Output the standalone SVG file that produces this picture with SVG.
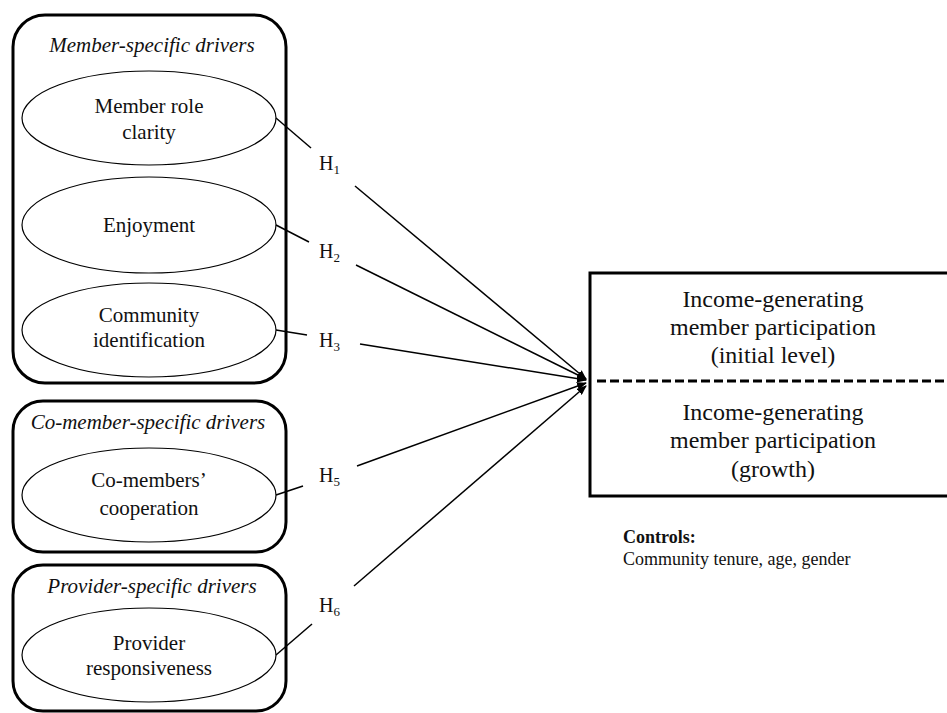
<svg xmlns="http://www.w3.org/2000/svg" width="947" height="713" viewBox="0 0 947 713">
<defs>
<style>
.grp{fill:none;stroke:#000;stroke-width:3}
.ell{fill:#fff;stroke:#000;stroke-width:1.2}
.t{font-family:"Liberation Serif","Times New Roman",serif;fill:#111;text-anchor:middle}
.s21{font-size:21px}
.it{font-style:italic}
.s24{font-size:24px}
.h{font-family:"Liberation Serif","Times New Roman",serif;font-size:20px;fill:#111}
.sub{font-size:13px}
.ln{stroke:#000;stroke-width:1.5;fill:none}
.ar{stroke:#000;stroke-width:1.5;fill:none;marker-end:url(#ah)}
</style>
<marker id="ah" markerWidth="10" markerHeight="8" refX="9" refY="4" orient="auto" markerUnits="userSpaceOnUse">
<path d="M0,0 L10,4 L0,8 Z" fill="#000"/>
</marker>
</defs>
<rect width="947" height="713" fill="#fff"/>

<g id="group-member">
<rect class="grp" x="13" y="15" width="273" height="368" rx="32"/>
<text class="t s21 it" x="152" y="52">Member-specific drivers</text>
</g>
<g id="node-role-clarity">
<ellipse class="ell" cx="149" cy="118" rx="127" ry="47"/>
<text class="t s21" x="149" y="113">Member role</text>
<text class="t s21" x="149" y="139">clarity</text>
</g>
<g id="node-enjoyment">
<ellipse class="ell" cx="149" cy="225" rx="127" ry="48"/>
<text class="t s21" x="149" y="232">Enjoyment</text>
</g>
<g id="node-community-identification">
<ellipse class="ell" cx="149" cy="330" rx="127" ry="47"/>
<text class="t s21" x="149" y="322">Community</text>
<text class="t s21" x="149" y="347">identification</text>
</g>

<g id="group-comember">
<rect class="grp" x="13" y="401" width="273" height="151" rx="30"/>
<text class="t s21 it" x="148" y="429">Co-member-specific drivers</text>
</g>
<g id="node-cooperation">
<ellipse class="ell" cx="149" cy="495" rx="127" ry="47"/>
<text class="t s21" x="149" y="487">Co-members’</text>
<text class="t s21" x="149" y="515">cooperation</text>
</g>

<g id="group-provider">
<rect class="grp" x="13" y="565" width="273" height="146" rx="30"/>
<text class="t s21 it" x="152" y="593">Provider-specific drivers</text>
</g>
<g id="node-responsiveness">
<ellipse class="ell" cx="149" cy="655" rx="127" ry="47"/>
<text class="t s21" x="149" y="650">Provider</text>
<text class="t s21" x="149" y="675">responsiveness</text>
</g>

<g id="node-outcome">
<rect x="590" y="273" width="370" height="223" fill="none" stroke="#000" stroke-width="3"/>
<line x1="597" y1="381" x2="947" y2="381" stroke="#000" stroke-width="3" stroke-dasharray="9,4"/>
<text class="t s24" x="773" y="307">Income-generating</text>
<text class="t s24" x="773" y="335">member participation</text>
<text class="t s24" x="773" y="363">(initial level)</text>
<text class="t s24" x="773" y="420">Income-generating</text>
<text class="t s24" x="773" y="448">member participation</text>
<text class="t s24" x="773" y="477">(growth)</text>
</g>

<g id="controls">
<text x="623" y="543" font-family="Liberation Serif, Times New Roman, serif" font-size="18" font-weight="bold" fill="#111">Controls:</text>
<text x="623" y="565" font-family="Liberation Serif, Times New Roman, serif" font-size="18" fill="#111">Community tenure, age, gender</text>
</g>

<g id="connectors">
<line class="ln" x1="276" y1="118" x2="311" y2="148"/>
<line class="ar" x1="355" y1="186" x2="586" y2="379"/>
<line class="ln" x1="276" y1="225" x2="309" y2="242"/>
<line class="ar" x1="356" y1="265" x2="586" y2="379"/>
<line class="ln" x1="276" y1="330" x2="307" y2="335"/>
<line class="ar" x1="360" y1="344" x2="586" y2="380"/>
<line class="ln" x1="276" y1="495" x2="303" y2="486"/>
<line class="ar" x1="357" y1="466" x2="586" y2="383"/>
<line class="ln" x1="276" y1="655" x2="312" y2="624"/>
<line class="ar" x1="354" y1="586" x2="586" y2="386"/>
</g>

<g id="labels">
<text class="h" x="319" y="170">H<tspan class="sub" dy="4">1</tspan></text>
<text class="h" x="319" y="258">H<tspan class="sub" dy="4">2</tspan></text>
<text class="h" x="319" y="347">H<tspan class="sub" dy="4">3</tspan></text>
<text class="h" x="319" y="482">H<tspan class="sub" dy="4">5</tspan></text>
<text class="h" x="319" y="612">H<tspan class="sub" dy="4">6</tspan></text>
</g>
</svg>
